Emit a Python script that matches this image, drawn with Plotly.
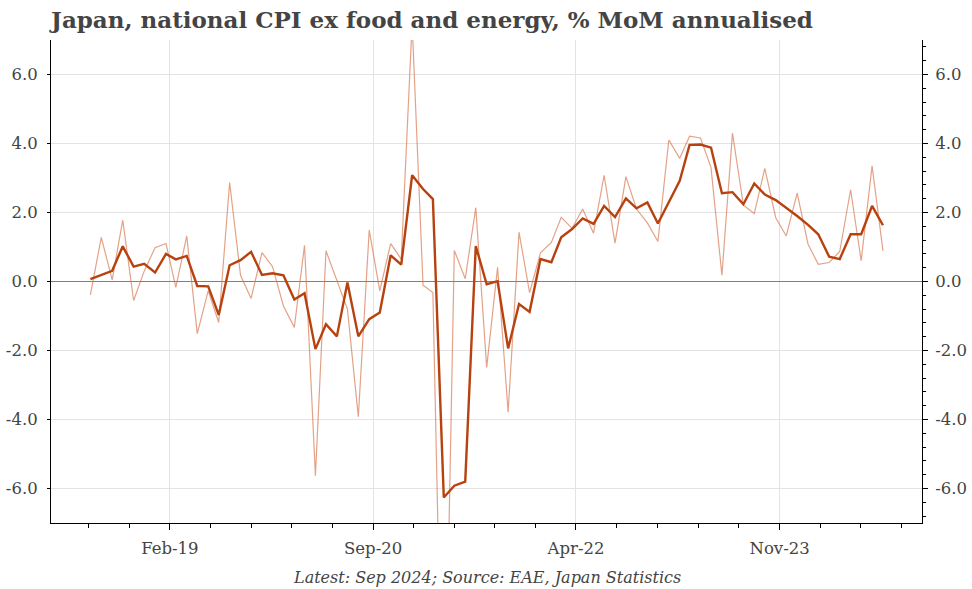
import pandas as pd
import plotly.graph_objects as go

# ---- data (monthly, Jul 2018 .. Sep 2024) ----
start_month = "2018-07-01"
n_months = 75
mom_annualised = [
    -0.39, 1.28, 0.05, 1.78, -0.55, 0.30, 0.98, 1.10, -0.17, 1.32,
    -1.51, -0.27, -1.19, 2.87, 0.18, -0.49, 0.84, 0.43, -0.71, -1.33,
    1.05, -5.63, 0.89, 0.05, -0.80, -3.92, 1.49, -0.27, 1.10, 0.65,
    7.50, -0.11, -0.32, -15.0, 0.90, 0.08, 2.14, -2.49, 0.41, -3.79,
    1.43, -0.32, 0.83, 1.13, 1.86, 1.54, 2.10, 1.40, 3.08, 1.11,
    3.04, 2.10, 1.70, 1.16, 4.10, 3.57, 4.21, 4.16, 3.30, 0.18,
    4.30, 2.21, 1.97, 3.28, 1.85, 1.32, 2.56, 1.08, 0.50, 0.55,
    0.87, 2.66, 0.60, 3.35, 0.89,
]
smoothed = [
    0.07, 0.18, 0.31, 1.02, 0.43, 0.51, 0.26, 0.80, 0.64, 0.74,
    -0.13, -0.14, -0.97, 0.47, 0.62, 0.86, 0.19, 0.24, 0.18, -0.52,
    -0.34, -1.96, -1.24, -1.59, -0.03, -1.59, -1.09, -0.90, 0.76, 0.49,
    3.08, 2.68, 2.39, -6.26, -5.92, -5.80, 1.03, -0.08, 0.01, -1.94,
    -0.65, -0.88, 0.65, 0.56, 1.28, 1.52, 1.83, 1.67, 2.19, 1.87,
    2.41, 2.12, 2.29, 1.68, 2.30, 2.92, 3.96, 3.97, 3.88, 2.56,
    2.59, 2.24, 2.84, 2.52, 2.36, 2.14, 1.90, 1.64, 1.37, 0.72,
    0.65, 1.37, 1.37, 2.19, 1.63,
]
x_tick0 = "2019-02-12"
x_tick_step_months = 19
x_range = ["2018-03-11", "2024-12-21"]
y_range = [-7, 7]
y_tick_vals = [-6, -4, -2, 0, 2, 4, 6]
y_tick_text = ["-6.0", "-4.0", "-2.0", "0.0", "2.0", "4.0", "6.0"]

title_text = "Japan, national CPI ex food and energy, % MoM annualised"
source_text = "Latest: Sep 2024; Source: EAE, Japan Statistics"

months = pd.date_range(start_month, periods=n_months, freq="MS")

# minor x ticks: each major interval split into 5
majors = [pd.Timestamp(x_tick0) + pd.DateOffset(months=x_tick_step_months * k) for k in range(-1, 5)]
minor_vals = []
lo, hi = pd.Timestamp(x_range[0]), pd.Timestamp(x_range[1])
for a, b in zip(majors[:-1], majors[1:]):
    step = (b - a) / 5
    for j in range(1, 5):
        t = a + step * j
        if lo <= t <= hi:
            minor_vals.append(t.strftime("%Y-%m-%d %H:%M"))

thin_col = "rgba(212,112,70,0.65)"
thick_col = "#b8420f"
txt_col = "#444444"
font_fam = "DejaVu Serif"
tick_size = 16.5

fig = go.Figure()
fig.add_trace(go.Scatter(x=months, y=mom_annualised, mode="lines",
                         line=dict(color=thin_col, width=1.2), yaxis="y",
                         showlegend=False))
fig.add_trace(go.Scatter(x=months, y=smoothed, mode="lines",
                         line=dict(color=thick_col, width=2.4), yaxis="y2",
                         showlegend=False))

fig.update_layout(
    width=972, height=589,
    margin=dict(l=51, r=50, t=40, b=66, autoexpand=False),
    paper_bgcolor="white", plot_bgcolor="white",
    font=dict(family=font_fam, size=15, color=txt_col),
    title=dict(text="<b>" + title_text + "</b>", x=0.0, xref="paper",
               xanchor="left", y=0.966, yref="container", yanchor="middle",
               font=dict(family=font_fam, size=23, color=txt_col)),
    xaxis=dict(type="date", range=x_range, tick0=x_tick0, automargin=False,
               dtick="M%d" % x_tick_step_months, tickformat="%b-%y",
               showgrid=True, gridcolor="#e3e3e3", gridwidth=1,
               showline=True, linecolor="black", linewidth=1,
               ticks="outside", ticklen=6, tickcolor="black",
               ticklabelstandoff=4,
               minor=dict(tickvals=minor_vals, ticks="outside", ticklen=4,
                          tickcolor="black", showgrid=False),
               tickfont=dict(size=tick_size, color=txt_col)),
    yaxis=dict(range=y_range, tickmode="array", tickvals=y_tick_vals,
               ticktext=y_tick_text, automargin=False,
               showgrid=True, gridcolor="#e3e3e3", gridwidth=1,
               zeroline=True, zerolinecolor="#808080", zerolinewidth=1.3,
               showline=True, linecolor="black", linewidth=1,
               ticks="outside", ticklen=3, tickcolor="black",
               ticklabelstandoff=6,
               tickfont=dict(size=tick_size, color=txt_col)),
    yaxis2=dict(range=y_range, tickmode="array", tickvals=y_tick_vals,
                ticktext=y_tick_text, overlaying="y", automargin=False,
                side="right", showgrid=False, zeroline=False,
                showline=True, linecolor="black", linewidth=1,
                ticks="outside", ticklen=5, tickcolor="black",
                ticklabelstandoff=4,
                minor=dict(dtick=0.4, tick0=0, ticks="outside", ticklen=3,
                           tickcolor="black", showgrid=False),
                tickfont=dict(size=tick_size, color=txt_col)),
    annotations=[dict(text="<i>" + source_text + "</i>", x=0.5, xref="paper",
                      y=-0.112, yref="paper", xanchor="center",
                      yanchor="middle", showarrow=False,
                      font=dict(family=font_fam, size=16, color=txt_col))],
)

fig.write_html("out.html", config={"displayModeBar": False},
               post_script="document.body.style.margin='0';document.body.style.padding='0';")
